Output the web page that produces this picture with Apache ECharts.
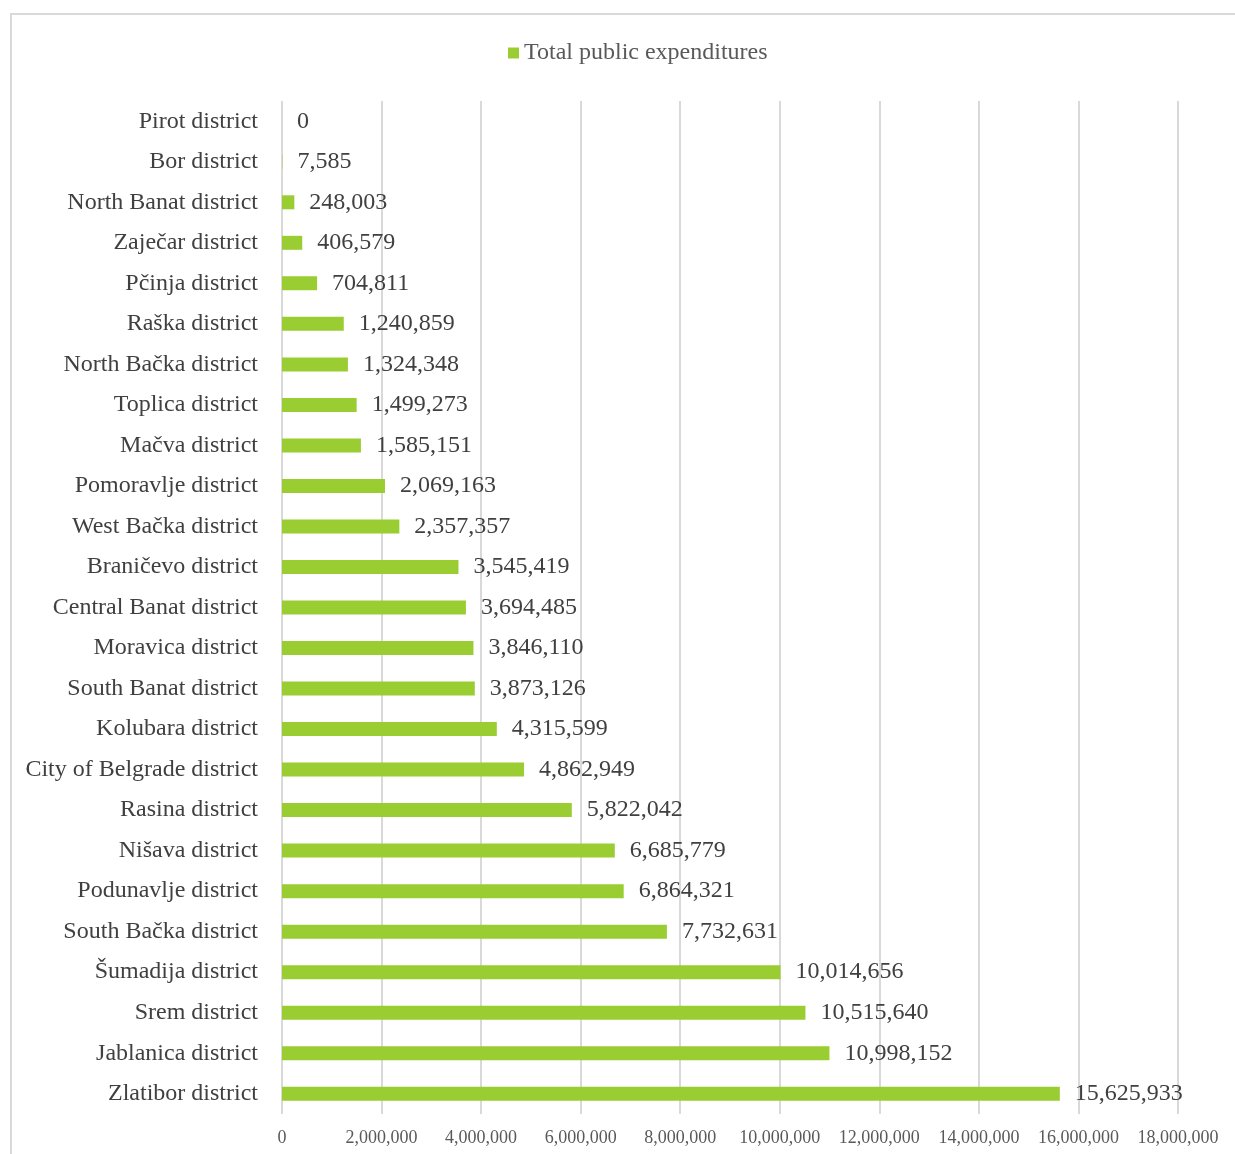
<!DOCTYPE html>
<html>
<head>
<meta charset="utf-8">
<script src="https://cdn.jsdelivr.net/npm/echarts@6/dist/echarts.min.js"></script>
<style>
  html, body { margin: 0; padding: 0; background: #fff; }
  #main { width: 1235px; height: 1154px; }
</style>
</head>
<body>
<div id="main"></div>
<script>
// district names, top to bottom as in the chart
const districts = [
  "Pirot district", "Bor district", "North Banat district", "Zaječar district",
  "Pčinja district", "Raška district", "North Bačka district", "Toplica district",
  "Mačva district", "Pomoravlje district", "West Bačka district", "Braničevo district",
  "Central Banat district", "Moravica district", "South Banat district", "Kolubara district",
  "City of Belgrade district", "Rasina district", "Nišava district", "Podunavlje district",
  "South Bačka district", "Šumadija district", "Srem district", "Jablanica district",
  "Zlatibor district"
];
const expenditures = [
  0, 7585, 248003, 406579,
  704811, 1240859, 1324348, 1499273,
  1585151, 2069163, 2357357, 3545419,
  3694485, 3846110, 3873126, 4315599,
  4862949, 5822042, 6685779, 6864321,
  7732631, 10014656, 10515640, 10998152,
  15625933
];
const seriesName = "Total public expenditures";

const fmt = (v) => Number(v).toLocaleString("en-US");
const font = "'Liberation Serif', 'Times New Roman', serif";

const myChart = echarts.init(document.getElementById("main"));
myChart.setOption({
  backgroundColor: "#fff",
  animation: false,
  graphic: [{
    type: "rect",
    shape: { x: 11, y: 14, width: 1400, height: 1300 },
    style: { fill: "none", stroke: "#d9d9d9", lineWidth: 2 },
    silent: true
  }],
  legend: {
    left: 503,
    top: 36,
    itemWidth: 11,
    itemHeight: 11,
    itemGap: 6,
    icon: "rect",
    textStyle: { fontFamily: font, fontSize: 24, color: "#595959" },
    data: [seriesName]
  },
  grid: { left: 282, right: 57, top: 101, bottom: 40, containLabel: false },
  xAxis: {
    type: "value",
    min: 0,
    max: 18000000,
    interval: 2000000,
    axisLine: { show: false },
    axisTick: { show: false },
    splitLine: { lineStyle: { color: "#d9d9d9", width: 2 } },
    axisLabel: {
      formatter: fmt,
      fontFamily: font,
      fontSize: 18,
      color: "#595959",
      margin: 15
    }
  },
  yAxis: {
    type: "category",
    inverse: true,
    data: districts,
    axisLine: { show: false },
    axisTick: { show: false },
    axisLabel: {
      fontFamily: font,
      fontSize: 24,
      color: "#404040",
      margin: 24,
      padding: [4, 0, 0, 0]
    }
  },
  series: [{
    name: seriesName,
    type: "bar",
    data: expenditures,
    barWidth: 14,
    itemStyle: { color: "#9ACD32" },
    label: {
      show: true,
      position: "right",
      distance: 15,
      formatter: (p) => fmt(p.value),
      fontFamily: font,
      fontSize: 24,
      color: "#404040",
      padding: [4, 0, 0, 0]
    }
  }]
});
</script>
</body>
</html>
